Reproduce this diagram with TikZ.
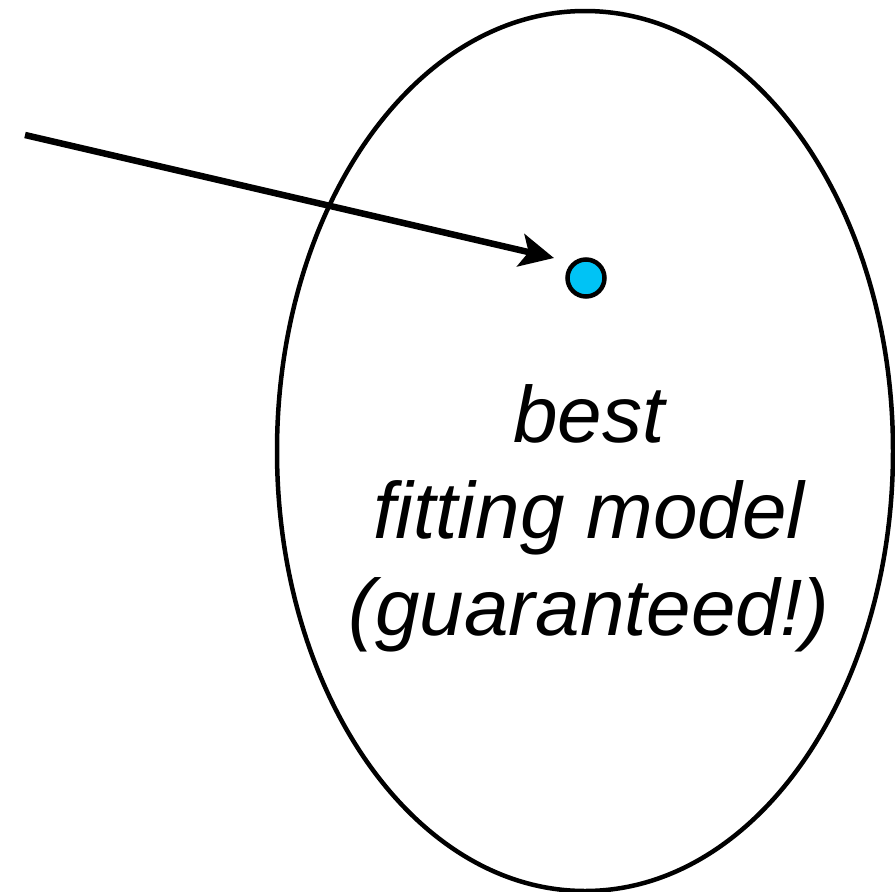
\documentclass[tikz,border=0pt]{standalone}
\usepackage{fontspec}
\setmainfont{Liberation Sans}
\usetikzlibrary{arrows.meta,shapes.geometric}
\definecolor{dotblue}{RGB}{0,195,245}
\begin{document}
\begin{tikzpicture}[x=1pt,y=-1pt,
  outline/.style={ellipse,draw=black,line width=4.5pt,minimum width=616pt,minimum height=880pt,inner sep=0pt},
  dotstyle/.style={circle,draw=black,line width=4.5pt,fill=dotblue,minimum size=37pt,inner sep=0pt},
  lbl/.style={align=center,font=\fontsize{80}{96.5}\selectfont\itshape,inner sep=0pt},
  arr/.style={line width=6.5pt,-{Stealth[length=34pt,width=33pt,inset=8pt]}}]
\useasboundingbox (0,0) rectangle (895,892);
\node[outline] (oval) at (585,451) {};
\node[dotstyle] (dot) at (586,278) {};
\coordinate (start) at (25,135);
\coordinate (tip) at (554,258);
\draw[arr] (start) -- (tip);
\node[lbl] (txt) at (589,518) {best\\fitting model\\(guaranteed!)};
\end{tikzpicture}
\end{document}
